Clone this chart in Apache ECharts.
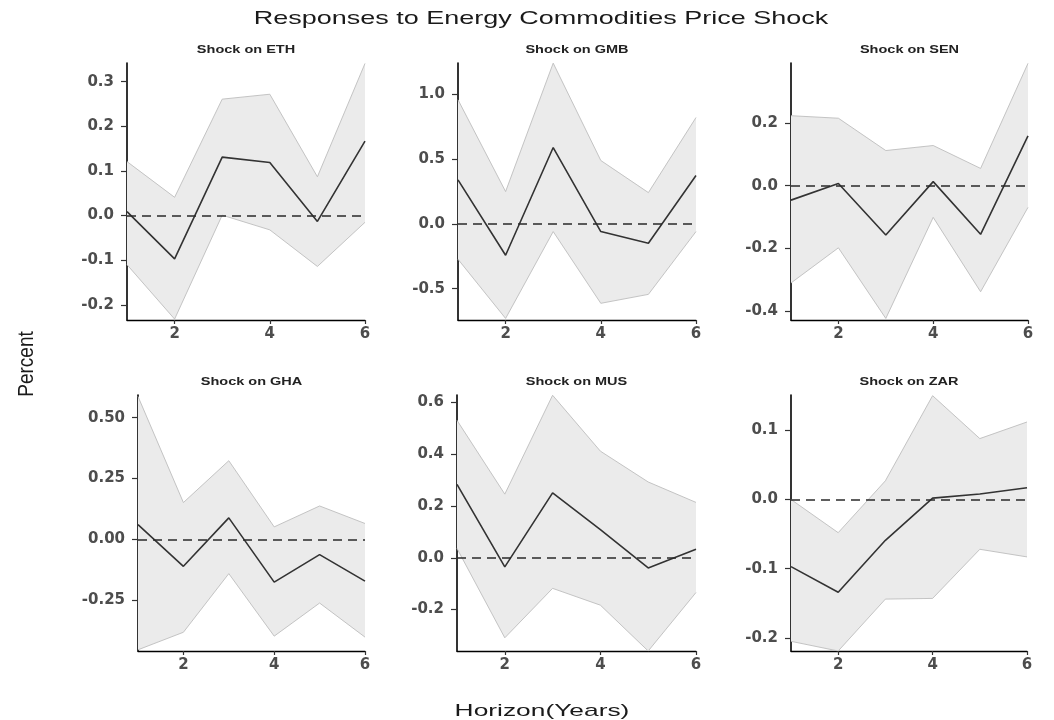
<!DOCTYPE html>
<html><head><meta charset="utf-8">
<script src="https://cdn.jsdelivr.net/npm/echarts@6/dist/echarts.min.js"></script>
<style>html,body{margin:0;padding:0;background:#fff}#c{width:1054px;height:720px}</style>
</head><body><div id="c"></div><script>
// ---- data ----
const horizon = [1, 2, 3, 4, 5, 6];
const xTickLabels = ['2', '4', '6'];
const panelNames = ['ETH', 'GMB', 'SEN', 'GHA', 'MUS', 'ZAR'];

const ethIrf = [0.009, -0.097, 0.131, 0.119, -0.013, 0.167];
const ethLo  = [-0.110, -0.232, 0.001, -0.032, -0.114, -0.015];
const ethHi  = [0.121, 0.041, 0.261, 0.272, 0.087, 0.341];
const ethTicks = ['-0.2', '-0.1', '0.0', '0.1', '0.2', '0.3'];
const ethRange = [-0.234, 0.342];

const gmbIrf = [0.340, -0.242, 0.590, -0.059, -0.149, 0.374];
const gmbLo  = [-0.273, -0.730, -0.059, -0.613, -0.544, -0.059];
const gmbHi  = [0.959, 0.250, 1.242, 0.490, 0.242, 0.822];
const gmbTicks = ['-0.5', '0.0', '0.5', '1.0'];
const gmbRange = [-0.742, 1.243];

const senIrf = [-0.046, 0.007, -0.157, 0.013, -0.155, 0.159];
const senLo  = [-0.310, -0.198, -0.423, -0.101, -0.338, -0.069];
const senHi  = [0.223, 0.215, 0.112, 0.128, 0.055, 0.390];
const senTicks = ['-0.4', '-0.2', '0.0', '0.2'];
const senRange = [-0.428, 0.391];

const ghaIrf = [0.060, -0.111, 0.088, -0.176, -0.063, -0.172];
const ghaLo  = [-0.454, -0.382, -0.141, -0.398, -0.262, -0.402];
const ghaHi  = [0.587, 0.151, 0.323, 0.051, 0.137, 0.065];
const ghaTicks = ['-0.25', '0.00', '0.25', '0.50'];
const ghaRange = [-0.459, 0.593];

const musIrf = [0.284, -0.035, 0.251, 0.109, -0.039, 0.033];
const musLo  = [0.036, -0.309, -0.118, -0.183, -0.360, -0.134];
const musHi  = [0.531, 0.246, 0.628, 0.412, 0.293, 0.214];
const musTicks = ['-0.2', '0.0', '0.2', '0.4', '0.6'];
const musRange = [-0.360, 0.629];

const zarIrf = [-0.097, -0.134, -0.059, 0.002, 0.008, 0.017];
const zarLo  = [-0.205, -0.219, -0.144, -0.143, -0.072, -0.083];
const zarHi  = [0.000, -0.048, 0.027, 0.150, 0.088, 0.112];
const zarTicks = ['-0.2', '-0.1', '0.0', '0.1'];
const zarRange = [-0.219, 0.151];

const panels = [
  { irf: ethIrf, lo: ethLo, hi: ethHi, ticks: ethTicks, range: ethRange },
  { irf: gmbIrf, lo: gmbLo, hi: gmbHi, ticks: gmbTicks, range: gmbRange },
  { irf: senIrf, lo: senLo, hi: senHi, ticks: senTicks, range: senRange },
  { irf: ghaIrf, lo: ghaLo, hi: ghaHi, ticks: ghaTicks, range: ghaRange },
  { irf: musIrf, lo: musLo, hi: musHi, ticks: musTicks, range: musRange },
  { irf: zarIrf, lo: zarLo, hi: zarHi, ticks: zarTicks, range: zarRange }
];

// ---- layout ----
const layout = [
  { left: 127, top: 63, width: 238, height: 257 },
  { left: 458, top: 63, width: 238, height: 257 },
  { left: 791, top: 63, width: 237, height: 257 },
  { left: 138, top: 395, width: 227, height: 256 },
  { left: 457, top: 395, width: 239, height: 256 },
  { left: 791, top: 395, width: 236, height: 256 }
];

const labelFont = 'DejaVu Sans';
const grid = [], xAxis = [], yAxis = [], series = [], graphic = [];

panels.forEach((p, i) => {
  const g = layout[i];
  grid.push({ left: g.left, top: g.top, width: g.width, height: g.height, containLabel: false });
  const xVals = xTickLabels.map(Number);
  xAxis.push({
    type: 'value', gridIndex: i, min: horizon[0], max: horizon[horizon.length - 1],
    axisLine: { show: true, onZero: false, lineStyle: { color: '#000', width: 1.3 } },
    axisTick: { show: true, length: 4, customValues: xVals, lineStyle: { color: '#333', width: 1.2 } },
    axisLabel: { customValues: xVals, margin: 7, color: '#4d4d4d', fontFamily: labelFont, fontWeight: 'bold', fontSize: 15,
      formatter: v => xTickLabels[xVals.indexOf(v)] ?? '' },
    splitLine: { show: false }
  });
  const yVals = p.ticks.map(Number);
  yAxis.push({
    type: 'value', gridIndex: i, min: p.range[0], max: p.range[1],
    axisLine: { show: true, onZero: false, lineStyle: { color: '#000', width: 1.6 } },
    axisTick: { show: true, length: 6, customValues: yVals, lineStyle: { color: '#333', width: 1.2 } },
    axisLabel: { customValues: yVals, margin: 13, color: '#4d4d4d', fontFamily: labelFont, fontWeight: 'bold', fontSize: 15,
      formatter: v => { let k = yVals.findIndex(t => Math.abs(t - v) < 1e-9); return k >= 0 ? p.ticks[k] : ''; } },
    splitLine: { show: false }
  });
  // confidence band as one polygon through the axis scales
  series.push({
    type: 'custom', xAxisIndex: i, yAxisIndex: i, silent: true, clip: true, z: 1,
    data: horizon.map((h, k) => [h, p.lo[k], p.hi[k]]),
    renderItem: (params, api) => {
      if (params.dataIndex !== 0) return null;
      const upper = horizon.map((h, k) => api.coord([h, p.hi[k]]));
      const lower = horizon.map((h, k) => api.coord([h, p.lo[k]])).reverse();
      return { type: 'polygon', shape: { points: upper.concat(lower) },
        style: { fill: '#ebebeb', stroke: null } };
    }
  });
  series.push({
    type: 'line', xAxisIndex: i, yAxisIndex: i,
    data: horizon.map((h, k) => [h, p.lo[k]]), symbol: 'none', silent: true,
    lineStyle: { color: '#bdbdbd', width: 0.9 }, z: 2
  });
  series.push({
    type: 'line', xAxisIndex: i, yAxisIndex: i,
    data: horizon.map((h, k) => [h, p.hi[k]]), symbol: 'none', silent: true,
    lineStyle: { color: '#bdbdbd', width: 0.9 }, z: 2
  });
  series.push({
    type: 'line', xAxisIndex: i, yAxisIndex: i,
    data: horizon.map((h, k) => [h, p.irf[k]]), symbol: 'none', silent: true,
    lineStyle: { color: '#333', width: 1.6 }, z: 3,
    markLine: { silent: true, symbol: 'none', label: { show: false },
      lineStyle: { type: [9, 6], color: '#2a2a2a', width: 1.5 }, data: [{ yAxis: 0 }] }
  });
  graphic.push({
    type: 'text', x: g.left + g.width / 2, y: g.top - 13, scaleX: 1.45,
    style: { text: 'Shock on ' + panelNames[i], font: 'bold 10px "Liberation Sans"', fill: '#222',
      textAlign: 'center', textVerticalAlign: 'middle', align: 'center', verticalAlign: 'middle' }
  });
});

graphic.push({
  type: 'text', x: 541, y: 19, scaleX: 1.42,
  style: { text: 'Responses to Energy Commodities Price Shock', font: '19px "Liberation Sans"', fill: '#1a1a1a',
    textAlign: 'center', textVerticalAlign: 'middle', align: 'center', verticalAlign: 'middle' }
});
graphic.push({
  type: 'text', x: 542, y: 711, scaleX: 1.55,
  style: { text: 'Horizon(Years)', font: '17px "Liberation Sans"', fill: '#1a1a1a',
    textAlign: 'center', textVerticalAlign: 'middle', align: 'center', verticalAlign: 'middle' }
});
graphic.push({
  type: 'text', x: 27, y: 364, rotation: Math.PI / 2, scaleY: 1.15,
  style: { text: 'Percent', font: '19px "Liberation Sans"', fill: '#1a1a1a',
    textAlign: 'center', textVerticalAlign: 'middle', align: 'center', verticalAlign: 'middle' }
});

const chart = echarts.init(document.getElementById('c'), null, { renderer: 'canvas' });
chart.setOption({ backgroundColor: '#fff', animation: false, grid, xAxis, yAxis, series, graphic });
</script></body></html>
